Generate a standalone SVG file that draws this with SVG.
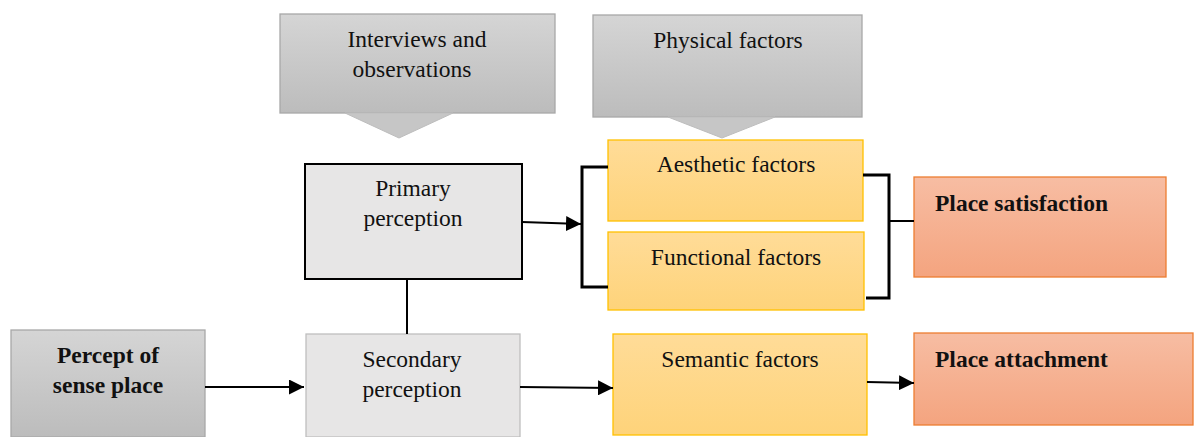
<svg xmlns="http://www.w3.org/2000/svg" width="1194" height="437" viewBox="0 0 1194 437">
<defs>
<linearGradient id="gGray" x1="0" y1="0" x2="0" y2="1"><stop offset="0" stop-color="#d5d5d5"/><stop offset="1" stop-color="#bcbcbc"/></linearGradient>
<linearGradient id="gYel" x1="0" y1="0" x2="0" y2="1"><stop offset="0" stop-color="#ffdc98"/><stop offset="1" stop-color="#fed37a"/></linearGradient>
<linearGradient id="gSal" x1="0" y1="0" x2="0" y2="1"><stop offset="0" stop-color="#f7bda3"/><stop offset="1" stop-color="#f4a47f"/></linearGradient>
<marker id="arr" viewBox="0 0 10 10" refX="10" refY="5" markerWidth="7.5" markerHeight="7.5" orient="auto" markerUnits="strokeWidth"><path d="M0,0 L10,5 L0,10 z" fill="#000"/></marker>
</defs>
<style>
text{font-family:"Liberation Serif","Times New Roman",serif;font-size:23.5px;fill:#111;}
.c{text-anchor:middle;}
.b{font-weight:bold;}
.gray{fill:url(#gGray);stroke:#a8a8a8;stroke-width:1.3;}
.light{fill:#e7e6e6;}
.yel{fill:url(#gYel);stroke:#ffc000;stroke-width:1.3;}
.sal{fill:url(#gSal);stroke:#ed7d31;stroke-width:1.3;}
.ln{fill:none;stroke:#000;stroke-width:2;}
.br{fill:none;stroke:#000;stroke-width:3;}
</style>
<rect width="1194" height="437" fill="#fff"/>
<g id="interviews">
<rect class="gray" x="280" y="14" width="275" height="99"/>
<polygon points="345,113 453,113 399,138" fill="#c6c6c6" stroke="#bdbdbd" stroke-width="1"/>
<text class="c" x="417" y="47">Interviews and</text>
<text class="c" x="412" y="77">observations</text>
</g>
<g id="physical">
<rect class="gray" x="593" y="15" width="269" height="102"/>
<polygon points="668,117 775,117 722,138" fill="#c6c6c6" stroke="#bdbdbd" stroke-width="1"/>
<text class="c" x="728" y="48">Physical factors</text>
</g>
<g id="primary">
<rect class="light" x="305" y="164" width="217" height="115" stroke="#000" stroke-width="2"/>
<text class="c" x="413" y="196">Primary</text>
<text class="c" x="413" y="226">perception</text>
</g>
<g id="secondary">
<rect class="light" x="306" y="334" width="214" height="103" stroke="#bfbfbf" stroke-width="1.3"/>
<text class="c" x="412" y="367">Secondary</text>
<text class="c" x="412" y="397">perception</text>
</g>
<g id="percept">
<rect class="gray" x="11" y="330" width="194" height="107"/>
<text class="c b" x="108" y="363">Percept of</text>
<text class="c b" x="108" y="393">sense place</text>
</g>
<g id="aesthetic">
<rect class="yel" x="608" y="140" width="255" height="81"/>
<text class="c" x="736" y="172">Aesthetic factors</text>
</g>
<g id="functional">
<rect class="yel" x="608" y="232" width="256" height="78"/>
<text class="c" x="736" y="265">Functional factors</text>
</g>
<g id="semantic">
<rect class="yel" x="613" y="334" width="254" height="101"/>
<text class="c" x="740" y="367">Semantic factors</text>
</g>
<g id="satisfaction">
<rect class="sal" x="914" y="177" width="252" height="100"/>
<text class="b" x="935" y="211">Place satisfaction</text>
</g>
<g id="attachment">
<rect class="sal" x="914" y="333" width="279" height="92"/>
<text class="b" x="935" y="367">Place attachment</text>
</g>
<g id="connectors">
<line class="ln" x1="407" y1="279" x2="407" y2="334"/>
<line class="ln" x1="522" y1="222" x2="581" y2="224" marker-end="url(#arr)"/>
<polyline class="br" points="608,167 582,167 582,287 608,287"/>
<polyline class="br" points="863,175 889,175 889,298 866,298"/>
<line class="ln" x1="889" y1="221" x2="914" y2="221"/>
<line class="ln" x1="205" y1="387" x2="304" y2="387" marker-end="url(#arr)"/>
<line class="ln" x1="520" y1="387" x2="613" y2="388" marker-end="url(#arr)"/>
<line class="ln" x1="867" y1="382" x2="914" y2="383" marker-end="url(#arr)"/>
</g>
</svg>
